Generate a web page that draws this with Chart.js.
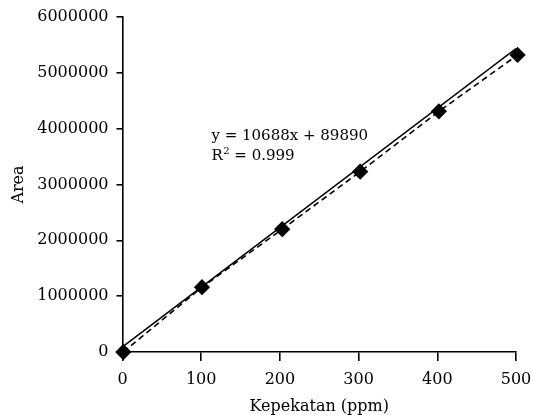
<!DOCTYPE html>
<html>
<head>
<meta charset="utf-8">
<script src="https://cdn.jsdelivr.net/npm/chart.js@4/dist/chart.umd.min.js"></script>
<style>
  html, body { margin: 0; padding: 0; background: #fff; }
  #wrap { width: 533px; height: 415px; position: relative; }
</style>
</head>
<body>
<div id="wrap"><canvas id="myChart"></canvas></div>
<script>
// data
const concX = [1, 101, 203, 302, 402, 502];
const areaY = [0, 1160000, 2200000, 3230000, 4310000, 5320000];
// trendline end points (solid line)
const trendX = [0, 500];
const trendY = [89890, 5434000];
const xTicks = [0, 100, 200, 300, 400, 500];
const yTicks = [0, 1000000, 2000000, 3000000, 4000000, 5000000, 6000000];
const eqLines = ['y = 10688x + 89890', 'R² = 0.999'];
const eqAt = { x: 113, y: 3870000 };

const FONT = "'DejaVu Serif', 'Liberation Serif', serif";

// draws the regression equation text
const eqPlugin = {
    id: 'eqText',
    afterDatasetsDraw(chart) {
        const ctx = chart.ctx;
        const px = chart.scales.x.getPixelForValue(eqAt.x);
        const py = chart.scales.y.getPixelForValue(eqAt.y);
        ctx.save();
        ctx.fillStyle = '#000';
        ctx.font = '15px ' + FONT;
        ctx.textAlign = 'left';
        ctx.textBaseline = 'middle';
        ctx.fillText(eqLines[0], px, py);
        // R with superscript 2
        const r = 'R';
        ctx.fillText(r, px, py + 20);
        let w = ctx.measureText(r).width;
        ctx.font = '10px ' + FONT;
        ctx.fillText('2', px + w + 0.5, py + 15);
        w += ctx.measureText('2').width + 0.5;
        ctx.font = '15px ' + FONT;
        ctx.fillText(' = 0.999', px + w, py + 20);
        ctx.restore();
    }
};

const ctx = document.getElementById('myChart');
new Chart(ctx.getContext('2d'), {
    type: 'scatter',
    data: {
        datasets: [
            {
                label: 'Trend',
                data: trendX.map((x, i) => ({ x: x, y: trendY[i] })),
                showLine: true,
                borderColor: '#000',
                borderWidth: 1.6,
                pointRadius: 0,
                fill: false
            },
            {
                label: 'Area',
                data: concX.map((x, i) => ({ x: x, y: areaY[i] })),
                showLine: true,
                borderColor: '#000',
                borderWidth: 1.6,
                borderDash: [6, 4],
                pointStyle: 'rectRot',
                pointRadius: 7,
                pointBackgroundColor: '#000',
                pointBorderColor: '#000',
                clip: false,
                fill: false
            }
        ]
    },
    options: {
        responsive: true,
        maintainAspectRatio: false,
        animation: false,
        layout: { padding: { top: 17, right: 17, left: 4, bottom: 0 } },
        plugins: {
            legend: { display: false },
            tooltip: { enabled: false }
        },
        scales: {
            x: {
                type: 'linear',
                min: 0,
                max: 500,
                afterBuildTicks: (s) => { s.ticks = xTicks.map(v => ({ value: v })); },
                afterFit: (s) => { s.height = 63; s.paddingRight = 0; s.paddingLeft = 0; },
                grid: { drawOnChartArea: false, color: '#000', lineWidth: 1.6, tickLength: 9 },
                border: { color: '#000', width: 1.6 },
                ticks: { color: '#000', font: { family: FONT, size: 16 }, padding: 9, maxRotation: 0 },
                title: { display: true, text: 'Kepekatan (ppm)', color: '#000', font: { family: FONT, size: 16 }, padding: { top: 0, bottom: -1 } }
            },
            y: {
                min: 0,
                max: 6000000,
                afterBuildTicks: (s) => { s.ticks = yTicks.map(v => ({ value: v })); },
                afterFit: (s) => { s.width = 118.5; s.paddingTop = 0; s.paddingBottom = 0; },
                grid: { drawOnChartArea: false, color: '#000', lineWidth: 1.6, tickLength: 6 },
                border: { color: '#000', width: 1.6 },
                ticks: { color: '#000', font: { family: FONT, size: 16 }, padding: 8, callback: (v) => String(v) },
                title: { display: true, text: 'Area', color: '#000', font: { family: FONT, size: 16 }, padding: { top: 5, bottom: 0 } }
            }
        }
    },
    plugins: [eqPlugin]
});
</script>
</body>
</html>
